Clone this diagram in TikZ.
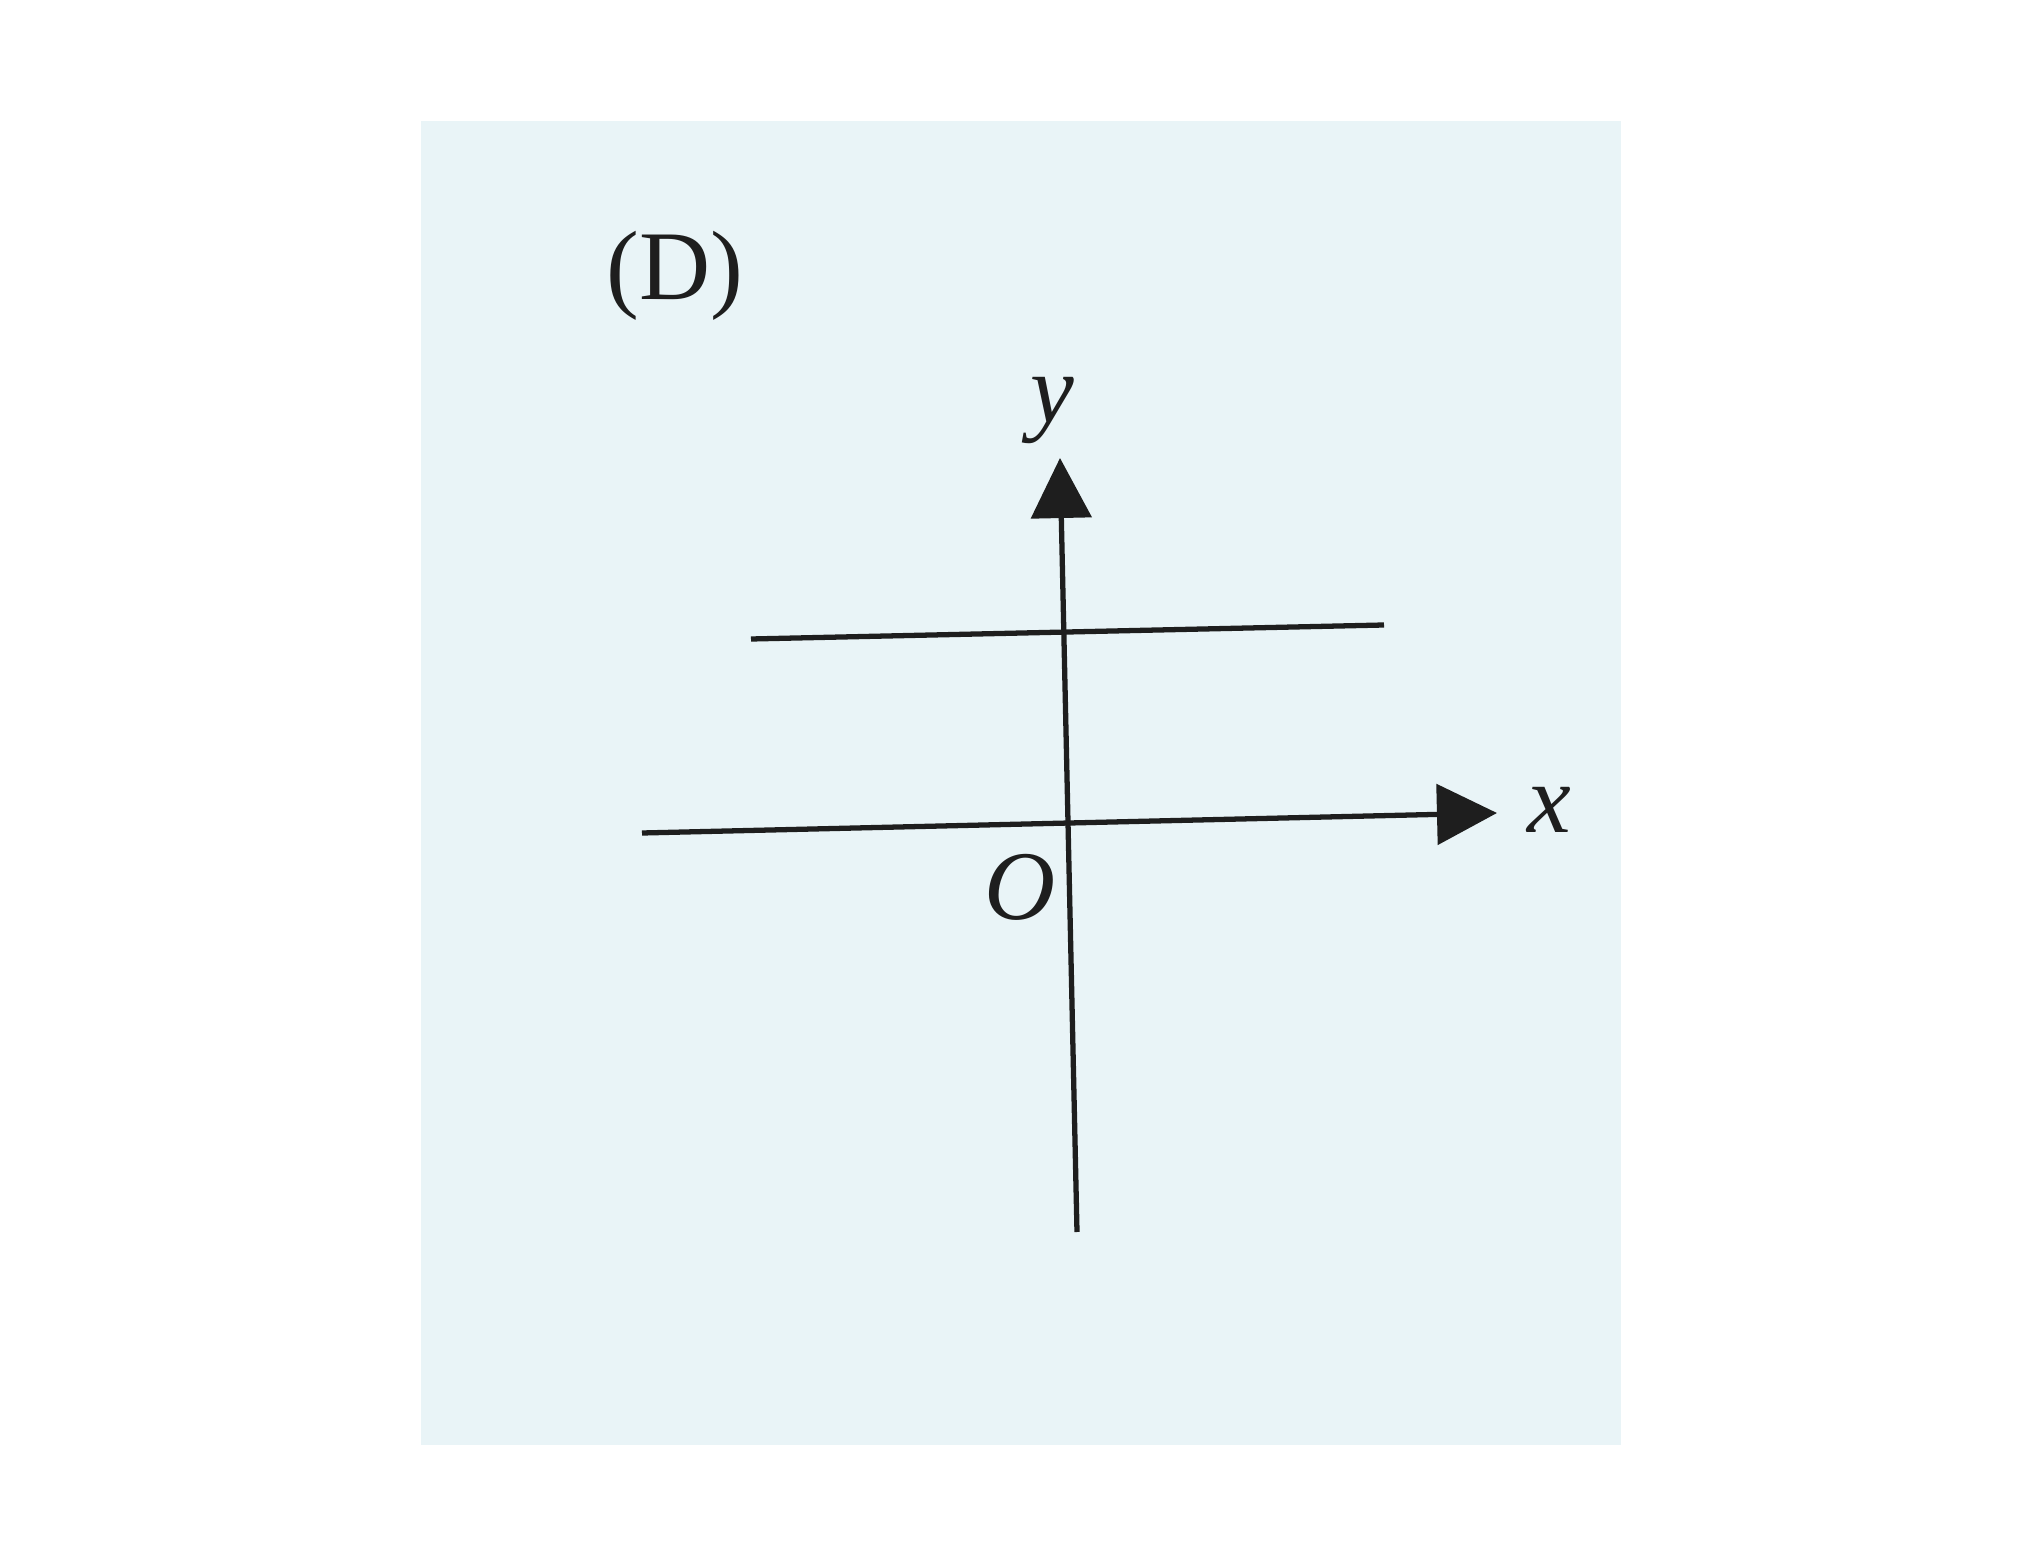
\documentclass[tikz,border=0pt]{standalone}
\usepackage{fontspec}
\setmainfont{Liberation Serif}
\usetikzlibrary{arrows.meta}
\definecolor{panelblue}{HTML}{E9F4F7}
\definecolor{ink}{HTML}{1E1E1E}

\begin{document}
\begin{tikzpicture}[x=0.01cm, y=-0.01cm, >={Triangle[length=0.6cm, width=0.6cm]},
  axis/.style={->, draw=ink, line width=1.5pt},
  graph/.style={draw=ink, line width=1.5pt},
  lbl/.style={font=\fontsize{28}{34}\selectfont, text=ink, inner sep=0pt, anchor=base}]
  \useasboundingbox[fill=white] (0,0) rectangle (2038,1567);
  \fill[panelblue] (421,121) rectangle (1621,1445);
  % axes
  \coordinate (xstart) at (642,833);
  \coordinate (xend) at (1497,813);
  \coordinate (ystart) at (1077,1232);
  \coordinate (yend) at (1060,458);
  \draw[axis] (xstart) -- (xend);
  \draw[axis] (ystart) -- (yend);
  % the line y = c
  \coordinate (lleft) at (751,639);
  \coordinate (lright) at (1384,625);
  \draw[graph] (lleft) -- (lright);
  % labels
  \node[lbl] (tag) at (675,300) {(D)};
  \node[lbl] (ylabel) at (1052,423) {\itshape y};
  \node[lbl] (xlabel) at (1549,833) {\itshape x};
  \node[lbl] (origin) at (1020,920) {\itshape O};
\end{tikzpicture}
\end{document}
